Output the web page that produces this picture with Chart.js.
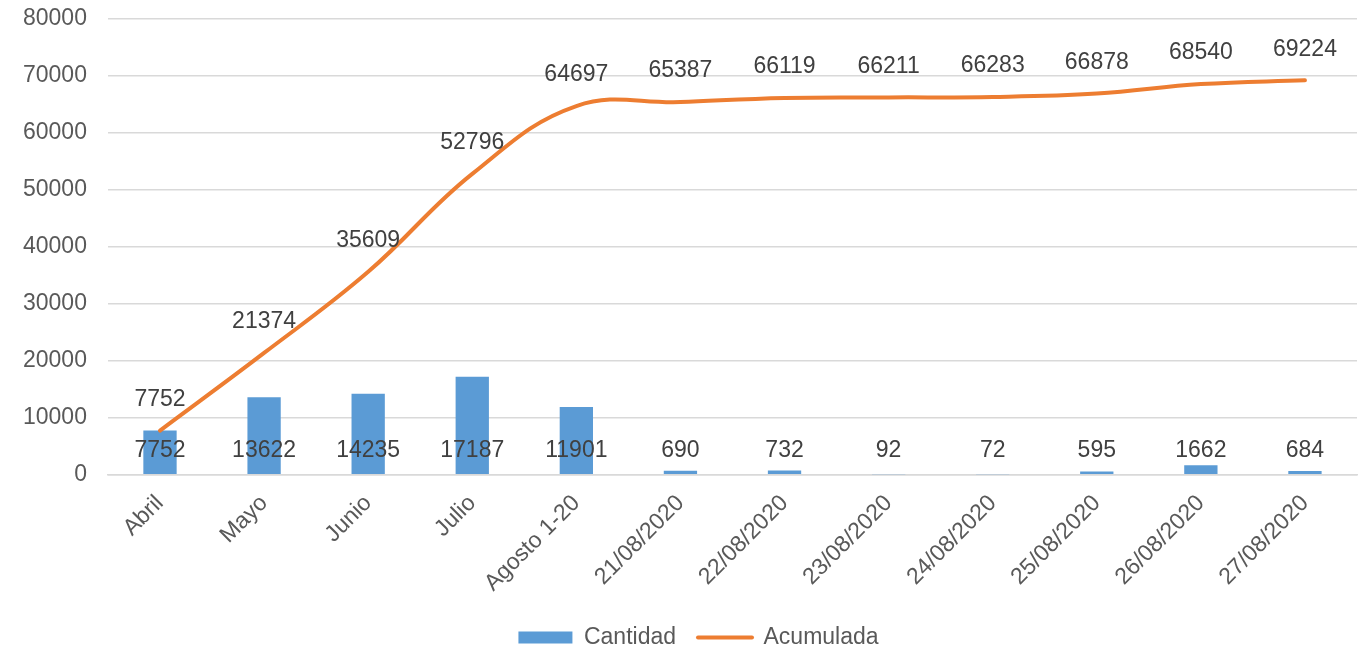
<!DOCTYPE html>
<html>
<head>
<meta charset="utf-8">
<script src="https://cdn.jsdelivr.net/npm/chart.js@4.4.1/dist/chart.umd.min.js"></script>
<style>
  html, body { margin: 0; padding: 0; background: #ffffff; }
  #wrap { width: 1364px; height: 651px; position: relative; }
</style>
</head>
<body>
<div id="wrap"><canvas id="c" width="1364" height="651"></canvas></div>
<script>
const categories = ["Abril", "Mayo", "Junio", "Julio", "Agosto 1-20", "21/08/2020", "22/08/2020", "23/08/2020", "24/08/2020", "25/08/2020", "26/08/2020", "27/08/2020"];
const cantidad = [7752, 13622, 14235, 17187, 11901, 690, 732, 92, 72, 595, 1662, 684];
const acumulada = [7752, 21374, 35609, 52796, 64697, 65387, 66119, 66211, 66283, 66878, 68540, 69224];
const seriesNames = ["Cantidad", "Acumulada"];
const yMin = 0, yMax = 80000, yStep = 10000;

const FONT = "'Liberation Sans', Arial, sans-serif";

const labelPlugin = {
  id: 'valueLabels',
  afterDatasetsDraw(chart) {
    const ctx = chart.ctx;
    const yScale = chart.scales.y;
    ctx.save();
    ctx.font = "23px " + FONT;
    ctx.fillStyle = "#404040";
    ctx.textAlign = "center";
    ctx.textBaseline = "middle";
    chart.data.datasets.forEach((ds, di) => {
      const meta = chart.getDatasetMeta(di);
      meta.data.forEach((el, i) => {
        const v = ds.data[i];
        let y;
        if (ds.type === 'bar') {
          y = yScale.getPixelForValue(0) - 24;
        } else {
          y = el.y - 31;
        }
        ctx.fillText(String(v), el.x, y);
      });
    });
    ctx.restore();
  }
};

const legendShift = {
  id: 'legendShift',
  afterLayout(chart) {
    if (chart.legend) {
      chart.legend.left += 11;
      chart.legend.right += 11;
    }
  }
};

new Chart(document.getElementById('c'), {
  data: {
    labels: categories,
    datasets: [
      {
        type: 'bar',
        label: seriesNames[0],
        data: cantidad,
        backgroundColor: '#5B9BD5',
        borderWidth: 0,
        categoryPercentage: 0.32,
        barPercentage: 1,
        order: 1
      },
      {
        type: 'line',
        label: seriesNames[1],
        data: acumulada,
        borderColor: '#ED7D31',
        backgroundColor: '#ED7D31',
        borderWidth: 4,
        borderCapStyle: 'round',
        pointRadius: 0,
        tension: 0.4,
        fill: false,
        order: 0
      }
    ]
  },
  options: {
    responsive: false,
    animation: false,
    devicePixelRatio: 1,
    layout: { padding: { left: 18, right: 7, top: 0, bottom: -8 } },
    plugins: {
      tooltip: { enabled: false },
      legend: {
        position: 'bottom',
        labels: {
          font: { family: FONT, size: 23 },
          color: '#595959',
          usePointStyle: true,
          pointStyleWidth: 54,
          boxHeight: 12,
          padding: 22,
          generateLabels(chart) {
            const items = Chart.defaults.plugins.legend.labels.generateLabels(chart);
            items.sort((a, b) => a.datasetIndex - b.datasetIndex);
            items.forEach(it => {
              if (it.datasetIndex === 0) {
                it.pointStyle = 'rect';
                it.fillStyle = '#5B9BD5';
                it.lineWidth = 0;
              } else {
                it.pointStyle = 'line';
                it.strokeStyle = '#ED7D31';
                it.lineWidth = 4;
                it.lineCap = 'round';
              }
            });
            return items;
          }
        }
      }
    },
    scales: {
      x: {
        grid: { display: false },
        border: { display: true, color: '#D9D9D9', width: 1.5 },
        ticks: {
          font: { family: FONT, size: 23 },
          color: '#595959',
          maxRotation: 45,
          minRotation: 45,
          autoSkip: false,
          padding: 7
        }
      },
      y: {
        min: yMin,
        max: yMax,
        grid: { color: '#D9D9D9', lineWidth: 1.5, drawTicks: true, tickLength: 16, tickColor: 'rgba(0,0,0,0)' },
        border: { display: false },
        ticks: {
          stepSize: yStep,
          font: { family: FONT, size: 23 },
          color: '#595959',
          padding: 5,
          callback: (v) => String(v)
        }
      }
    }
  },
  plugins: [labelPlugin, legendShift]
});
</script>
</body>
</html>
